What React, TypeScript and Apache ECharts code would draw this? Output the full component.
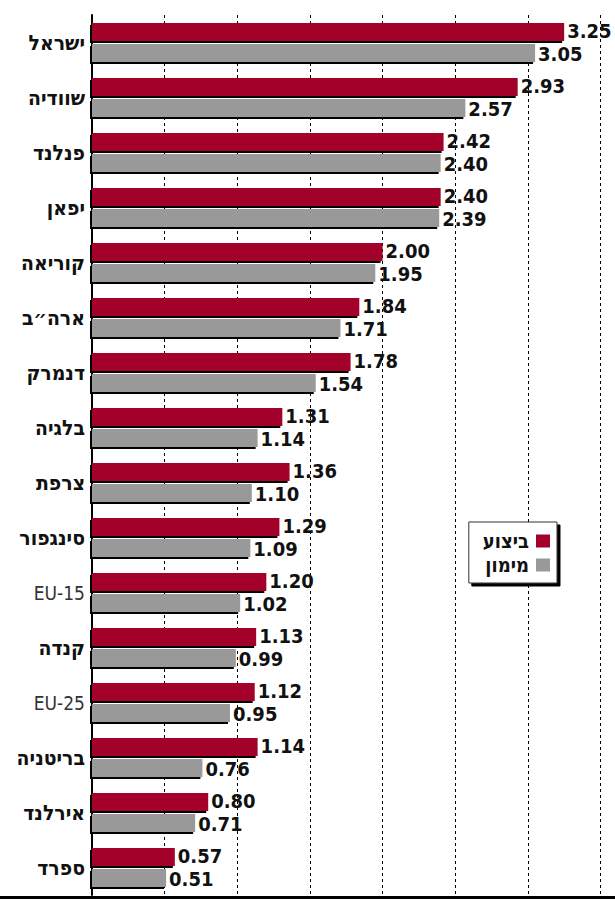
import React, { useEffect, useRef } from "react";
import * as echarts from "echarts";

const categories = [
  "ישראל",
  "שוודיה",
  "פנלנד",
  "יפאן",
  "קוריאה",
  "ארה״ב",
  "דנמרק",
  "בלגיה",
  "צרפת",
  "סינגפור",
  "EU-15",
  "קנדה",
  "EU-25",
  "בריטניה",
  "אירלנד",
  "ספרד",
];
const performance = [3.25, 2.93, 2.42, 2.4, 2.0, 1.84, 1.78, 1.31, 1.36, 1.29, 1.2, 1.13, 1.12, 1.14, 0.8, 0.57];
const funding = [3.05, 2.57, 2.4, 2.39, 1.95, 1.71, 1.54, 1.14, 1.1, 1.09, 1.02, 0.99, 0.95, 0.76, 0.71, 0.51];
const seriesNames = ["ביצוע", "מימון"];

const FONT = "'DejaVu Sans Condensed', 'Liberation Sans', sans-serif";

export default function App() {
  const ref = useRef<HTMLDivElement>(null);
  useEffect(() => {
    document.body.style.margin = "0";
    const chart = echarts.init(ref.current!, null, { renderer: "svg" });
    const labelBase = {
      show: true,
      position: "right" as const,
      distance: 3,
      fontFamily: FONT,
      fontSize: 20,
      lineHeight: 17,
      fontWeight: "bold" as const,
      color: "#111",
      formatter: (p: any) => Number(p.value).toFixed(2),
    };
    chart.setOption({
      animation: false,
      backgroundColor: "#fff",
      grid: { left: 92, top: 15, height: 880, width: 524, containLabel: false },
      legend: {
        orient: "vertical",
        right: 58,
        top: 522,
        align: "right",
        data: seriesNames,
        itemWidth: 14,
        itemHeight: 13,
        itemGap: 4,
        padding: [9, 7, 8, 14],
        backgroundColor: "#fff",
        borderColor: "#333",
        borderWidth: 1,
        shadowColor: "#000",
        shadowOffsetX: 3,
        shadowOffsetY: 3,
        shadowBlur: 0,
        icon: "rect",
        textStyle: { fontFamily: FONT, fontSize: 20, fontWeight: "bold", color: "#111", lineHeight: 20, padding: [0, 2, 0, 0] },
      },
      xAxis: {
        type: "value",
        min: 0,
        max: 3.6,
        interval: 0.5,
        axisLabel: { show: false },
        axisLine: { show: false },
        axisTick: { show: false },
        splitLine: { show: true, lineStyle: { color: "#000", width: 1, type: [3, 3] } },
      },
      yAxis: {
        type: "category",
        inverse: true,
        data: categories,
        axisLine: { show: true, lineStyle: { color: "#000", width: 2 } },
        axisTick: { show: false },
        axisLabel: {
          margin: 7,
          formatter: (v: string) => (v.startsWith("EU") ? `{eu|${v}}` : `{heb|${v}}`),
          rich: {
            heb: { fontFamily: FONT, fontSize: 21, fontWeight: "bold", color: "#111" },
            eu: { fontFamily: FONT, fontSize: 19, fontWeight: "normal", color: "#333" },
          },
        },
      },
      series: [
        {
          type: "bar",
          barWidth: 18,
          barGap: "17%",
          name: seriesNames[0],
          data: performance,
          label: { ...labelBase, offset: [0, -1] },
          itemStyle: { color: "#A3002B", shadowColor: "#000", shadowOffsetX: -2, shadowOffsetY: 2, shadowBlur: 0 },
        },
        {
          type: "bar",
          barWidth: 18,
          barGap: "17%",
          name: seriesNames[1],
          data: funding,
          label: { ...labelBase, offset: [0, 1] },
          itemStyle: { color: "#999999", shadowColor: "#000", shadowOffsetX: -2, shadowOffsetY: 2, shadowBlur: 0 },
        },
      ],
      graphic: [
        { type: "rect", left: 0, top: 896, shape: { width: 615, height: 3 }, style: { fill: "#000" } },
      ],
    });
    return () => chart.dispose();
  }, []);
  return <div ref={ref} style={{ position: "absolute", left: 0, top: 0, width: 615, height: 901 }} />;
}
